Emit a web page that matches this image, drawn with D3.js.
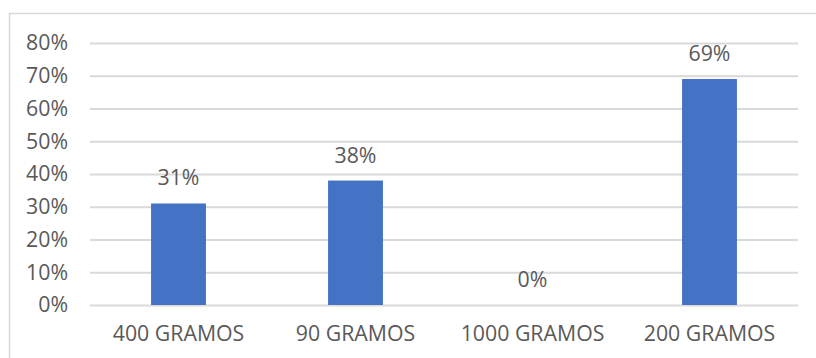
<!DOCTYPE html>
<html>
<head>
<meta charset="utf-8">
<script src="https://cdn.jsdelivr.net/npm/d3@7"></script>
<style>
  html, body { margin: 0; padding: 0; background: #fff; }
  svg { display: block; }
  text { font-family: "Open Sans", "Liberation Sans", sans-serif; fill: #595959; }
</style>
</head>
<body>
<svg id="chart" width="816" height="358"></svg>
<script>
// Share of responses per package size
const categories = ["400 GRAMOS", "90 GRAMOS", "1000 GRAMOS", "200 GRAMOS"];
const values = [0.31, 0.38, 0.00, 0.69];
const yTicks = [0, 0.1, 0.2, 0.3, 0.4, 0.5, 0.6, 0.7, 0.8];

const svg = d3.select("#chart");
const W = 816, H = 358;
const plot = { left: 90, right: 798, top: 43, bottom: 305 };
const fontSize = 21.3;

// chart area frame
svg.append("rect")
  .attr("x", 9.5).attr("y", 13.5)
  .attr("width", W + 10).attr("height", H + 10)
  .attr("fill", "#fff").attr("stroke", "#d9d9d9").attr("stroke-width", 1.5);

const x = d3.scaleBand().domain(categories).range([plot.left, plot.right]).paddingInner(0.69).paddingOuter(0.345);
const y = d3.scaleLinear().domain([0, 0.8]).range([plot.bottom, plot.top]);

const fmt = d3.format(".0%");

// gridlines + y labels
const yAxis = d3.axisLeft(y).tickValues(yTicks).tickFormat(fmt)
  .tickSize(-(plot.right - plot.left)).tickPadding(22);
const gy = svg.append("g").attr("transform", `translate(${plot.left},0)`).call(yAxis);
gy.select(".domain").remove();
gy.selectAll(".tick line").attr("stroke", "#d9d9d9").attr("stroke-width", 2);
gy.selectAll(".tick text").attr("font-size", fontSize).attr("fill", "#595959")
  .style("font-family", '"Open Sans", "Liberation Sans", sans-serif');

// category labels
const xAxis = d3.axisBottom(x).tickSize(0).tickPadding(21);
const gx = svg.append("g").attr("transform", `translate(0,${plot.bottom})`).call(xAxis);
gx.select(".domain").remove();
gx.selectAll(".tick text").attr("font-size", fontSize).attr("fill", "#595959")
  .style("font-family", '"Open Sans", "Liberation Sans", sans-serif');

// bars
svg.append("g").selectAll("rect").data(values).join("rect")
  .attr("x", (d, i) => x(categories[i]))
  .attr("y", d => y(d))
  .attr("width", x.bandwidth())
  .attr("height", d => y(0) - y(d))
  .attr("fill", "#4472c4");

// value labels above each bar
svg.append("g").selectAll("text").data(values).join("text")
  .attr("x", (d, i) => x(categories[i]) + x.bandwidth() / 2)
  .attr("y", d => y(d) - 18)
  .attr("text-anchor", "middle")
  .attr("font-size", fontSize)
  .text(d => fmt(d));
</script>
</body>
</html>
